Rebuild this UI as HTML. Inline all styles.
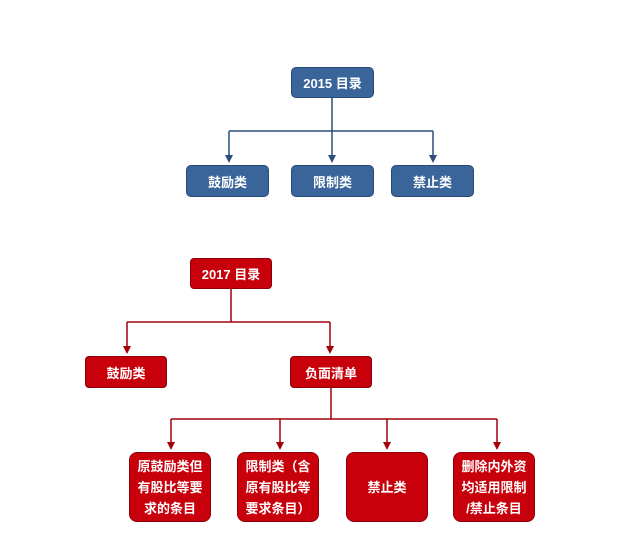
<!DOCTYPE html><html><head><meta charset="utf-8"><style>
body{margin:0;width:640px;height:536px;background:#fff;position:relative;overflow:hidden;font-family:"Liberation Sans","Noto Sans CJK SC",sans-serif}
.b{position:absolute;display:flex;align-items:center;justify-content:center;text-align:center;color:#fff;font-size:13px;font-weight:bold;box-sizing:border-box;border-radius:5px}
.bl{background:#3a659a;border:1px solid #274a75}
.r{background:#c8000b;border:1px solid #8e0008;border-radius:8px}
.t{line-height:21px;font-size:13px}
</style></head><body>
<svg width="640" height="536" style="position:absolute;left:0;top:0">
<g stroke="#2e4f7a" stroke-width="1.5" fill="none">
<path d="M332,98V131M229,131H433M229,131V156M332,131V156M433,131V156"/>
</g>
<g fill="#2e4f7a">
<path d="M225,155H233L229,163z"/><path d="M328,155H336L332,163z"/><path d="M429,155H437L433,163z"/>
</g>
<g stroke="#a3000a" stroke-width="1.5" fill="none">
<path d="M231,289V322M127,322H330M127,322V347M330,322V347"/>
<path d="M331,387V419M171,419H497M171,419V443M280,419V443M387,419V443M497,419V443"/>
</g>
<g fill="#a3000a">
<path d="M123,346H131L127,354z"/><path d="M326,346H334L330,354z"/>
<path d="M167,442H175L171,450z"/><path d="M276,442H284L280,450z"/><path d="M383,442H391L387,450z"/><path d="M493,442H501L497,450z"/>
</g>
</svg>
<div class="b bl" style="left:291px;top:67px;width:83px;height:31px">2015 目录</div>
<div class="b bl" style="left:186px;top:165px;width:83px;height:32px">鼓励类</div>
<div class="b bl" style="left:291px;top:165px;width:83px;height:32px">限制类</div>
<div class="b bl" style="left:391px;top:165px;width:83px;height:32px">禁止类</div>
<div class="b r" style="left:190px;top:258px;width:82px;height:31px;border-radius:4px">2017 目录</div>
<div class="b r" style="left:85px;top:356px;width:82px;height:32px;border-radius:4px">鼓励类</div>
<div class="b r" style="left:290px;top:356px;width:82px;height:32px;border-radius:4px">负面清单</div>
<div class="b r t" style="left:129px;top:452px;width:82px;height:70px">原鼓励类但<br>有股比等要<br>求的条目</div>
<div class="b r t" style="left:237px;top:452px;width:82px;height:70px">限制类（含<br>原有股比等<br>要求条目）</div>
<div class="b r t" style="left:346px;top:452px;width:82px;height:70px">禁止类</div>
<div class="b r t" style="left:453px;top:452px;width:82px;height:70px">删除内外资<br>均适用限制<br>/禁止条目</div>
</body></html>
